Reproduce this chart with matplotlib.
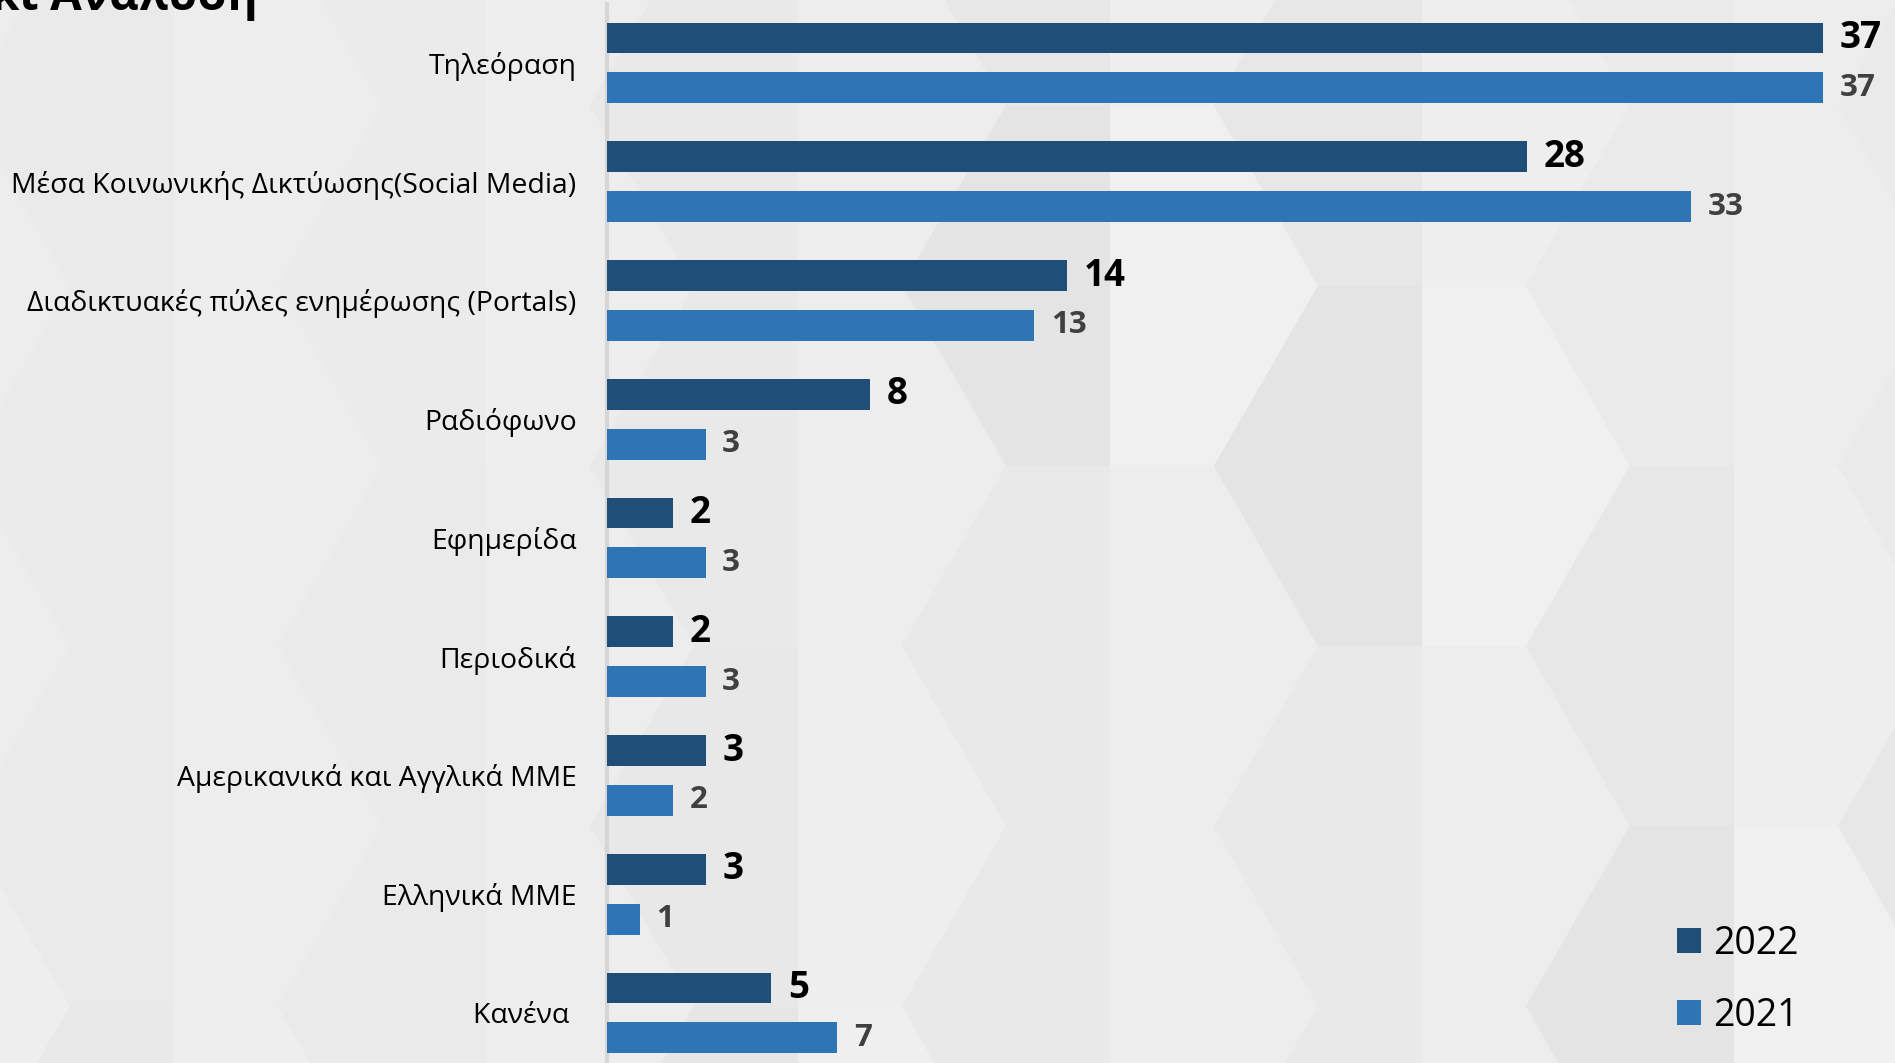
import matplotlib
matplotlib.use("Agg")
import matplotlib.pyplot as plt
from matplotlib.patches import Polygon

categories = ['Τηλεόραση',
              'Μέσα Κοινωνικής Δικτύωσης(Social Media)',
              'Διαδικτυακές πύλες ενημέρωσης (Portals)',
              'Ραδιόφωνο',
              'Εφημερίδα',
              'Περιοδικά',
              'Αμερικανικά και Αγγλικά ΜΜΕ',
              'Ελληνικά ΜΜΕ',
              'Κανένα ']
v2022 = [37, 28, 14, 8, 2, 2, 3, 3, 5]
v2021 = [37, 33, 13, 3, 3, 3, 2, 1, 7]
series_names = ['2022', '2021']

W, H = 1895, 1063
fig = plt.figure(figsize=(W / 100, H / 100), dpi=100)
bg = '#ececec'
fig.patch.set_facecolor(bg)

# subtle hexagonal background pattern (decoration)
s = 208.0
hh = s * 3 ** 0.5 / 2
depth = [3, 6, 2, 8, 4, 9, 5, 3, 6, 2]


def gray(v):
    v = max(0, min(255, int(round(v))))
    return '#%02x%02x%02x' % (v, v, v)


def add_poly(pts, c):
    fig.patches.append(Polygon([(x / W, 1 - y / H) for x, y in pts], closed=True,
                               transform=fig.transFigure, facecolor=c,
                               edgecolor='none', zorder=-10))


for k in range(-5, 4):
    cx = 1110 + 1.5 * s * k
    yoff = 0 if k % 2 == 0 else -hh
    for m in range(-2, 3):
        cy = 646 + 2 * hh * m + yoff
        d = depth[(k * 3 + m * 7) % len(depth)] * 0.8
        if cx < 650:
            d = d * 0.4
        left = [(cx, cy - hh), (cx - s / 2, cy - hh), (cx - s, cy),
                (cx - s / 2, cy + hh), (cx, cy + hh)]
        right = [(cx, cy - hh), (cx + s / 2, cy - hh), (cx + s, cy),
                 (cx + s / 2, cy + hh), (cx, cy + hh)]
        add_poly(left, gray(236 - d * 1.2))
        add_poly(right, gray(236 + d * 0.6))

left_px, top_px = 607, 3.6
pitch = 118.75
n = len(categories)
ax_top = 1 - top_px / H
ax_h = n * pitch / H
ax = fig.add_axes([left_px / W, ax_top - ax_h, 1 - left_px / W, ax_h])
ax.set_facecolor('none')

xmax = (W - left_px) / 32.86
ax.set_xlim(0, xmax)
ax.set_ylim(n - 0.5, -0.5)

c22, c21 = '#1f4e79', '#2e75b6'
off, bh = 0.21, 0.26
ys = list(range(n))
ax.barh([y - off for y in ys], v2022, height=bh, color=c22, label=series_names[0], zorder=3)
ax.barh([y + off for y in ys], v2021, height=bh, color=c21, label=series_names[1], zorder=3)

for y, v in zip(ys, v2022):
    ax.annotate(str(v), (v, y - off), xytext=(12, 0), textcoords='offset points',
                ha='left', va='center', fontsize=26.5, fontweight='bold', color='black',
                family='Open Sans')
for y, v in zip(ys, v2021):
    ax.annotate(str(v), (v, y + off), xytext=(12, 0), textcoords='offset points',
                ha='left', va='center', fontsize=22.5, fontweight='bold', color='#404040',
                family='Open Sans')

ax.set_yticks(ys)
ax.set_yticklabels(categories, fontsize=20.4, family='Open Sans', color='black')
ax.tick_params(axis='y', length=0, pad=22)
ax.set_xticks([])
for sp in ['top', 'right', 'bottom']:
    ax.spines[sp].set_visible(False)
ax.spines['left'].set_color('#d6d6d6')
ax.spines['left'].set_linewidth(3)

leg = fig.legend(loc='upper left', bbox_to_anchor=(1677 / W, 1 - 925 / H),
                 frameon=False, prop={'family': 'Open Sans', 'size': 27},
                 handlelength=0.64, handleheight=0.64, handletextpad=0.33,
                 labelspacing=0.9, borderpad=0, borderaxespad=0)

fig.text(258 / W, 1 - 10 / H, 'κι Ανάλυση', ha='right', va='baseline',
         fontsize=33, fontweight='bold', family='Open Sans', color='black')

fig.savefig('out.png', dpi=100, facecolor=fig.get_facecolor())
